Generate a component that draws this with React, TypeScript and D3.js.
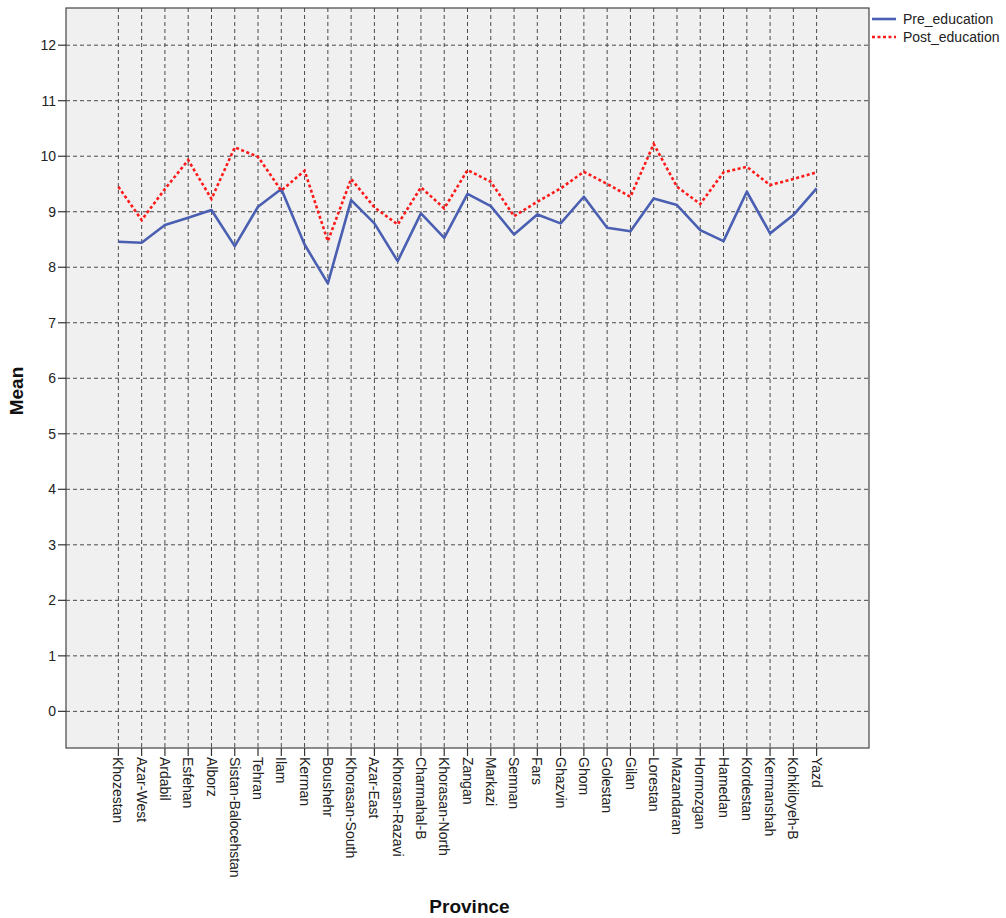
import React from "react";
import * as d3 from "d3";

const provinces = [
  "Khozestan", "Azar-West", "Ardabil", "Esfehan", "Alborz", "Sistan-Balocehstan",
  "Tehran", "Ilam", "Kerman", "Boushehr", "Khorasan-South", "Azar-East",
  "Khorasn-Razavi", "Charmahal-B", "Khorasan-North", "Zangan", "Markazi", "Semnan",
  "Fars", "Ghazvin", "Ghom", "Golestan", "Gilan", "Lorestan", "Mazandaran",
  "Hormozgan", "Hamedan", "Kordestan", "Kermanshah", "Kohkiloyeh-B", "Yazd",
];

const preEducation = [
  8.46, 8.44, 8.76, 8.89, 9.03, 8.38, 9.09, 9.41, 8.41, 7.71, 9.21, 8.79,
  8.11, 8.97, 8.53, 9.32, 9.10, 8.59, 8.95, 8.79, 9.27, 8.71, 8.65, 9.24,
  9.12, 8.67, 8.47, 9.36, 8.61, 8.94, 9.42,
];

const postEducation = [
  9.45, 8.85, 9.41, 9.93, 9.23, 10.16, 9.99, 9.38, 9.74, 8.47, 9.59, 9.08,
  8.77, 9.44, 9.06, 9.75, 9.54, 8.92, 9.18, 9.42, 9.72, 9.50, 9.27, 10.22,
  9.45, 9.14, 9.71, 9.81, 9.48, 9.59, 9.71,
];

const yTicks = [0, 1, 2, 3, 4, 5, 6, 7, 8, 9, 10, 11, 12];

const seriesNames = ["Pre_education", "Post_education"];

export default function App() {
  const W = 1006;
  const H = 918;
  const left = 66, right = 869, top = 8, bottom = 748;

  const x = d3.scalePoint<string>().domain(provinces).range([left, right]).padding(2.25);
  const y = d3.scaleLinear().domain([-0.66, 12.67]).range([bottom, top]);

  const line = d3
    .line<number>()
    .x((_, i) => x(provinces[i]) as number)
    .y((d) => y(d));

  const font = "Liberation Sans, Arial, sans-serif";
  const gridColor = "#4a4a4a";

  return (
    <svg
      width={W}
      height={H}
      style={{ position: "absolute", left: 0, top: 0, background: "#fff" }}
      fontFamily={font}
    >
      <rect x={left} y={top} width={right - left} height={bottom - top} fill="#f0f0f0" />
      {/* horizontal grid */}
      {yTicks.map((t) => (
        <line
          key={"h" + t}
          x1={left}
          x2={right}
          y1={y(t)}
          y2={y(t)}
          stroke={gridColor}
          strokeWidth={1}
          strokeDasharray="4,3"
        />
      ))}
      {/* vertical grid */}
      {provinces.map((p) => (
        <line
          key={"v" + p}
          x1={x(p)}
          x2={x(p)}
          y1={top}
          y2={bottom}
          stroke={gridColor}
          strokeWidth={1}
          strokeDasharray="4,3"
        />
      ))}
      {/* lines */}
      <path d={line(preEducation) || ""} fill="none" stroke="#4a5fb1" strokeWidth={2.6} strokeLinejoin="round" />
      <path
        d={line(postEducation) || ""}
        fill="none"
        stroke="#ff1a1a"
        strokeWidth={2.6}
        strokeDasharray="3,2.5"
      />
      {/* frame */}
      <rect x={left} y={top} width={right - left} height={bottom - top} fill="none" stroke="#444" strokeWidth={1.2} />

      {/* y axis ticks */}
      {yTicks.map((t) => (
        <g key={"yt" + t}>
          <line x1={left - 8} x2={left} y1={y(t)} y2={y(t)} stroke="#333" strokeWidth={1.2} />
          <text x={left - 10} y={y(t)} dy="0.35em" textAnchor="end" fontSize={14} fill="#222">
            {t}
          </text>
        </g>
      ))}

      {/* x axis ticks */}
      {provinces.map((p) => (
        <g key={"xt" + p}>
          <line x1={x(p)} x2={x(p)} y1={bottom} y2={bottom + 8} stroke="#333" strokeWidth={1.2} />
          <text
            transform={`translate(${x(p)},${bottom + 9}) rotate(90)`}
            dy="0.35em"
            textAnchor="start"
            fontSize={14}
            fill="#222"
          >
            {p}
          </text>
        </g>
      ))}

      {/* axis titles */}
      <text
        transform={`translate(23,${(top + bottom) / 2 + 13}) rotate(-90)`}
        textAnchor="middle"
        fontSize={19}
        fontWeight="bold"
        fill="#111"
      >
        Mean
      </text>
      <text x={(left + right) / 2 + 2} y={913} textAnchor="middle" fontSize={19} fontWeight="bold" fill="#111">
        Province
      </text>

      {/* legend */}
      <g>
        <line x1={872} x2={896} y1={19} y2={19} stroke="#4a5fb1" strokeWidth={2.6} />
        <text x={903} y={19} dy="0.35em" fontSize={14} fill="#222">
          {seriesNames[0]}
        </text>
        <line x1={872} x2={896} y1={37} y2={37} stroke="#ff1a1a" strokeWidth={2.6} strokeDasharray="3,2.5" />
        <text x={903} y={37} dy="0.35em" fontSize={14} fill="#222">
          {seriesNames[1]}
        </text>
      </g>
    </svg>
  );
}
